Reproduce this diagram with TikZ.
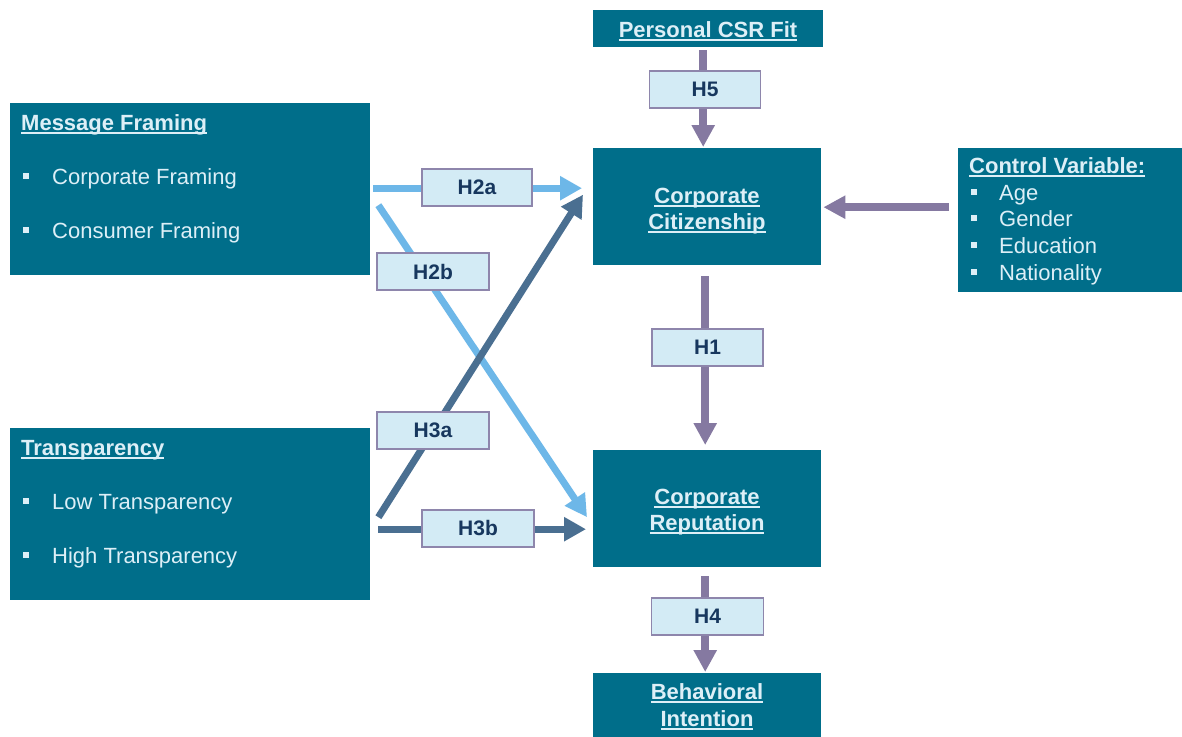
\documentclass[tikz,border=0pt]{standalone}
\usepackage{fontspec}
\setmainfont{Liberation Sans}
\usetikzlibrary{arrows.meta,calc}
\definecolor{boxteal}{HTML}{006E8A}
\definecolor{boxtext}{HTML}{DDEFF7}
\definecolor{labfill}{HTML}{D3EBF5}
\definecolor{labedge}{HTML}{8E86AC}
\definecolor{labtext}{HTML}{17375E}
\definecolor{arrpurple}{HTML}{8579A1}
\definecolor{arrlight}{HTML}{6DB7E8}
\definecolor{arrdark}{HTML}{4A6F91}
\newcommand\myul[1]{\setbox0=\hbox{#1}\rlap{\copy0}\rule[-3.5pt]{\wd0}{1.6pt}}
\newcommand\mybul{\rule[5pt]{6pt}{6pt}}
\begin{document}
\begin{tikzpicture}[x=1pt,y=-1pt,
  mainbox/.style={fill=boxteal, draw=none, inner sep=0pt, anchor=north west},
  titletxt/.style={text=boxtext, inner sep=0pt, font=\bfseries\fontsize{22}{26}\selectfont},
  itemtxt/.style={text=boxtext, inner sep=0pt, font=\fontsize{22}{26}\selectfont},
  labbox/.style={fill=labfill, draw=labedge, line width=1.3pt, minimum height=37pt, inner sep=0pt, text=labtext, font=\bfseries\fontsize{21}{24}\selectfont},
  parrow/.style={draw=arrpurple, line width=8pt, -{Triangle[length=22pt,width=22pt]}},
  larrow/.style={draw=arrlight, line width=7pt, -{Triangle[length=22pt,width=23pt]}},
  darrow/.style={draw=arrdark, line width=7pt, -{Triangle[length=22pt,width=23pt]}}
]
\useasboundingbox (0,0) rectangle (1182,736);
\fill[white] (0,0) rectangle (1182,736);

% main boxes
\node[mainbox, minimum width=360pt, minimum height=172pt] (mf) at (10,103) {};
\node[mainbox, minimum width=360pt, minimum height=172pt] (tr) at (10,428) {};
\node[mainbox, minimum width=230pt, minimum height=37pt] (csr) at (593,10) {};
\node[mainbox, minimum width=228pt, minimum height=117pt] (cc) at (593,148) {};
\node[mainbox, minimum width=228pt, minimum height=117pt] (cr) at (593,450) {};
\node[mainbox, minimum width=228pt, minimum height=70pt] (bi) at (593,673) {};
\node[mainbox, minimum width=230pt, minimum height=144pt] (cv) at (958,148) {};

% texts in boxes
\node[titletxt, anchor=base west] (mft) at (21,130) {\myul{Message Framing}};
\node[itemtxt, anchor=base west] (mf1) at (23,184) {\makebox[29pt][l]{\mybul}Corporate Framing};
\node[itemtxt, anchor=base west] (mf2) at (23,238) {\makebox[29pt][l]{\mybul}Consumer Framing};

\node[titletxt, anchor=base west] (trt) at (21,455) {\myul{Transparency}};
\node[itemtxt, anchor=base west] (tr1) at (23,509) {\makebox[29pt][l]{\mybul}Low Transparency};
\node[itemtxt, anchor=base west] (tr2) at (23,563) {\makebox[29pt][l]{\mybul}High Transparency};

\node[titletxt, anchor=base] (csrt) at (708,37) {\myul{Personal CSR Fit}};

\node[titletxt, anchor=base] (cct1) at (707,203) {\myul{Corporate}};
\node[titletxt, anchor=base] (cct2) at (707,229) {\myul{Citizenship}};

\node[titletxt, anchor=base] (crt1) at (707,504) {\myul{Corporate}};
\node[titletxt, anchor=base] (crt2) at (707,530) {\myul{Reputation}};

\node[titletxt, anchor=base] (bit1) at (707,699) {\myul{Behavioral}};
\node[titletxt, anchor=base] (bit2) at (707,726) {\myul{Intention}};

\node[titletxt, anchor=base west] (cvt) at (969,173) {\myul{Control Variable:}};
\node[itemtxt, anchor=base west] (cv1) at (971,200) {\makebox[28pt][l]{\mybul}Age};
\node[itemtxt, anchor=base west] (cv2) at (971,226) {\makebox[28pt][l]{\mybul}Gender};
\node[itemtxt, anchor=base west] (cv3) at (971,253) {\makebox[28pt][l]{\mybul}Education};
\node[itemtxt, anchor=base west] (cv4) at (971,280) {\makebox[28pt][l]{\mybul}Nationality};

% connectors
\draw[parrow] ($(csr.south)+(-5,3)$) -- ($(cc.north)+(-4,-1)$);
\draw[parrow] ($(cc.south)+(-2,11)$) -- ($(cr.north)+(-2,-5)$);
\draw[parrow] ($(cr.south)+(-2,9)$) -- ($(bi.north)+(-2,-1)$);
\draw[parrow] ($(cv.west)+(-9,-13)$) -- ($(cc.east)+(2,0.5)$);

\draw[larrow] ($(mf.east)+(3,-1)$) -- ($(cc.west)+(-11,-18.5)$);
\draw[larrow] ($(mf.east)+(8,16)$) -- ($(cr.west)+(-6,8.5)$);
\draw[darrow] ($(tr.east)+(8,3)$) -- ($(cc.west)+(-10,-12)$);
\draw[darrow] ($(tr.east)+(8,15)$) -- ($(cr.west)+(-7,20.5)$);

% hypothesis labels
\node[labbox, minimum width=111pt] (h5) at (705,89.5) {H5};
\node[labbox, minimum width=110pt] (h2a) at (477,187.5) {H2a};
\node[labbox, minimum width=112pt] (h2b) at (433,271.5) {H2b};
\node[labbox, minimum width=111pt] (h1) at (707.5,347.5) {H1};
\node[labbox, minimum width=112pt] (h3a) at (433,430.5) {H3a};
\node[labbox, minimum width=112pt] (h3b) at (478,528.5) {H3b};
\node[labbox, minimum width=112pt] (h4) at (707.5,616.5) {H4};
\end{tikzpicture}
\end{document}
